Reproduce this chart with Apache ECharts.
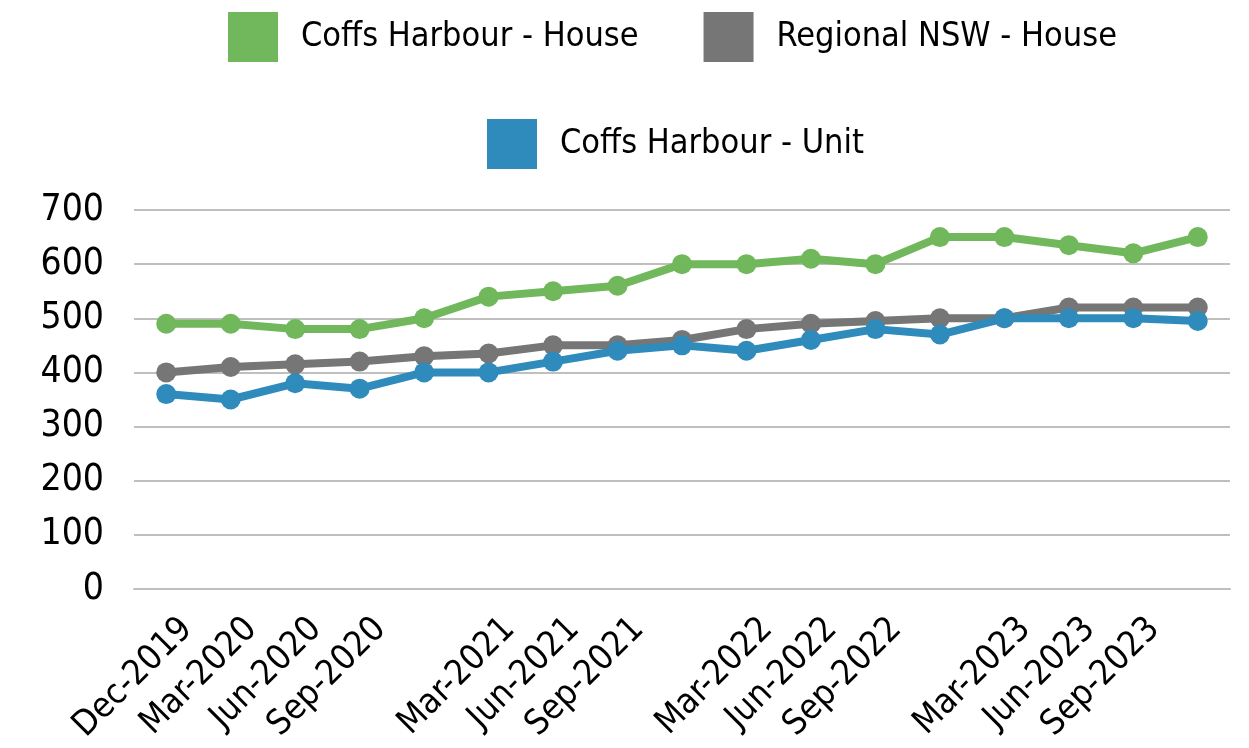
<!DOCTYPE html>
<html>
<head>
<meta charset="utf-8">
<script src="https://cdn.jsdelivr.net/npm/echarts@6/dist/echarts.min.js"></script>
<style>
  html, body { margin: 0; padding: 0; background: #fff; }
  #chart { width: 1249px; height: 748px; }
</style>
</head>
<body>
<div id="chart"></div>
<script>
const quarters = ['Dec-2019', 'Mar-2020', 'Jun-2020', 'Sep-2020', 'Dec-2020', 'Mar-2021', 'Jun-2021', 'Sep-2021',
  'Dec-2021', 'Mar-2022', 'Jun-2022', 'Sep-2022', 'Dec-2022', 'Mar-2023', 'Jun-2023', 'Sep-2023', 'Dec-2023'];
const coffsHouse = [490, 490, 480, 480, 500, 540, 550, 560, 600, 600, 610, 600, 650, 650, 635, 620, 650];
const regionalHouse = [400, 410, 415, 420, 430, 435, 450, 450, 460, 480, 490, 495, 500, 500, 520, 520, 520];
const coffsUnit = [360, 350, 380, 370, 400, 400, 420, 440, 450, 440, 460, 480, 470, 500, 500, 500, 495];
const yTicks = [0, 100, 200, 300, 400, 500, 600, 700];

const font = "'Liberation Sans Narrow', 'DejaVu Sans Condensed', 'Roboto', sans-serif";
const green = '#71b75b';
const grey = '#767676';
const blue = '#2e8bbc';

function lineSeries(name, data, color) {
  return {
    name, type: 'line', data,
    symbol: 'circle', symbolSize: 20,
    itemStyle: { color },
    lineStyle: { color, width: 8 },
    emphasis: { disabled: true },
  };
}

const legendText = { fontFamily: font, fontSize: 34, color: '#000', padding: [0, 0, 0, 18] };

const chart = echarts.init(document.getElementById('chart'));
chart.setOption({
  animation: false,
  legend: [
    { data: ['Coffs Harbour - House', 'Regional NSW - House'], top: 7, left: 223,
      icon: 'rect', itemWidth: 50, itemHeight: 50, itemGap: 65, textStyle: legendText },
    { data: ['Coffs Harbour - Unit'], top: 114, left: 482,
      icon: 'rect', itemWidth: 50, itemHeight: 50, textStyle: legendText },
  ],
  grid: { left: 134, right: 19, top: 210, bottom: 159, containLabel: false },
  xAxis: {
    type: 'category', data: quarters, boundaryGap: true,
    axisLine: { lineStyle: { color: '#bfbfbf', width: 2 } },
    axisTick: { show: false },
    axisLabel: {
      rotate: 45, margin: 14, fontFamily: font, fontSize: 35, color: '#000',
      verticalAlign: 'top', padding: [12, 0, 0, 0],
      interval: (i, v) => i === 0 || !v.startsWith('Dec'),
    },
  },
  yAxis: {
    type: 'value', min: yTicks[0], max: yTicks[yTicks.length - 1], interval: 100,
    axisLine: { show: false }, axisTick: { show: false },
    splitLine: { lineStyle: { color: '#bfbfbf', width: 2 } },
    axisLabel: { margin: 30, fontFamily: font, fontSize: 37, color: '#000' },
  },
  series: [
    lineSeries('Coffs Harbour - House', coffsHouse, green),
    lineSeries('Regional NSW - House', regionalHouse, grey),
    lineSeries('Coffs Harbour - Unit', coffsUnit, blue),
  ],
});
</script>
</body>
</html>
